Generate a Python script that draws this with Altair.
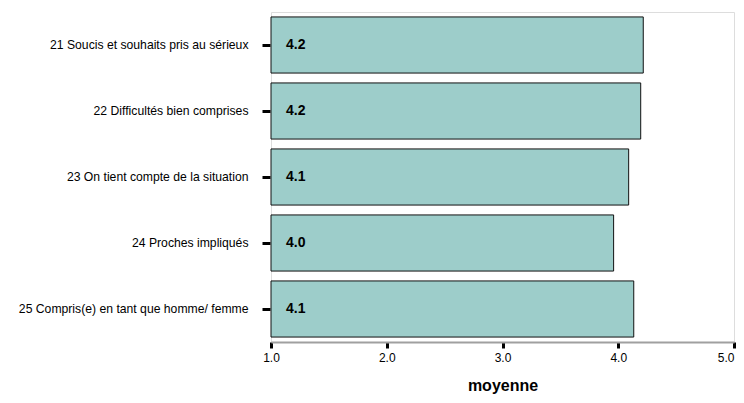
import altair as alt
import pandas as pd

categories = [
    "21 Soucis et souhaits pris au sérieux",
    "22 Difficultés bien comprises",
    "23 On tient compte de la situation",
    "24 Proches impliqués",
    "25 Compris(e) en tant que homme/ femme",
]
values = [4.216, 4.194, 4.09, 3.96, 4.134]
x_ticks = [1, 2, 3, 4, 5]

df = pd.DataFrame({"cat": categories, "val": values})
df["lbl"] = [f"{v:.1f}" for v in values]

FONT = "Liberation Sans"

y_enc = alt.Y(
    "cat:N",
    sort=categories,
    title=None,
    scale=alt.Scale(paddingInner=0.15, paddingOuter=0.075),
    axis=alt.Axis(
        domain=False,
        ticks=True,
        tickSize=8,
        tickWidth=3,
        tickColor="black",
        labelPadding=14,
        labelFontSize=12.2,
        labelFont=FONT,
        labelColor="black",
        labelLimit=400,
        offset=1,
        grid=False,
    ),
)

x_scale = alt.Scale(domain=[1, 5], zero=False, nice=False)

bars = alt.Chart(df).mark_bar(
    fill="#9dcdca", stroke="#111111", strokeWidth=1
).encode(
    x=alt.X(
        "val:Q",
        scale=x_scale,
        title="moyenne",
        axis=alt.Axis(
            values=x_ticks,
            format=".1f",
            tickSize=6,
            tickWidth=3,
            tickColor="black",
            domainColor="#a0a0a0",
            domainWidth=2,
            labelFontSize=12,
            labelFont=FONT,
            labelColor="black",
            labelPadding=4,
            labelFlush=False,
            labelAlign=alt.ExprRef(expr="datum.value >= 5 ? 'right' : 'center'"),
            titleFont=FONT,
            titleFontSize=16,
            titleFontWeight="bold",
            titleColor="black",
            titlePadding=14,
            grid=False,
        ),
    ),
    x2=alt.datum(1),
    y=y_enc,
)

texts = alt.Chart(df).mark_text(
    align="left", baseline="middle", dx=15, fontSize=14, fontWeight="bold",
    font=FONT, color="black"
).encode(
    x=alt.X("base:Q", scale=x_scale),
    y=alt.Y("cat:N", sort=categories),
    text="lbl:N",
).transform_calculate(base="1")

chart = (bars + texts).properties(
    width=463,
    height=330,
    autosize=alt.AutoSizeParams(type="none"),
    padding={"left": 263, "top": 4, "right": 2, "bottom": 53},
).configure_view(stroke="#a0a0a0", strokeWidth=2).configure(background="white")

chart.save("out.html", embed_options={"renderer": "svg", "actions": False})
